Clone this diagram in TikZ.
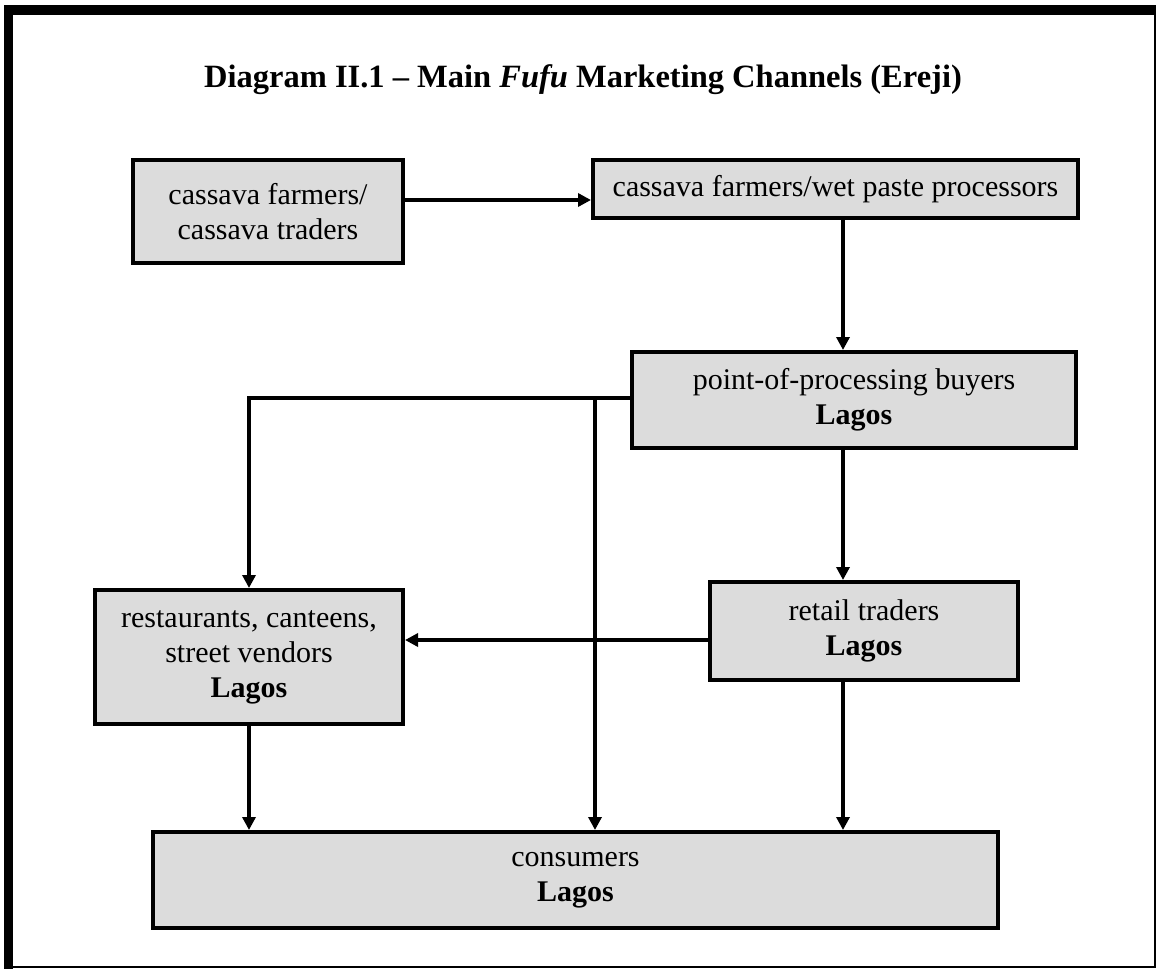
\documentclass[tikz,border=0pt]{standalone}
\usepackage{fontspec}
\setmainfont{Liberation Serif}
\usetikzlibrary{arrows.meta}

\definecolor{boxgray}{HTML}{DCDCDC}

\tikzset{
	chan/.style={draw, line width=4pt, fill=boxgray, inner sep=0pt, align=center,
		font=\fontsize{30}{35}\selectfont},
	arr/.style={line width=3.3pt, -{Triangle[length=13pt,width=13pt]}},
}

\begin{document}
\begin{tikzpicture}[x=1pt,y=-1pt]
	\useasboundingbox (0,0) rectangle (1156,969);
	% frame
	\draw[line width=10pt] (4,10) -- (1156,10);
	\draw[line width=9pt] (8.5,5) -- (8.5,969);
	\draw[line width=2pt] (1155,5) -- (1155,967) -- (4,967);
	\node (title) at (583,80) {\fontsize{32.5}{38}\selectfont\bfseries Diagram II.1 -- Main \textit{Fufu} Marketing Channels (Ereji)};

	% boxes
	\node[chan, minimum width=270pt, minimum height=103pt] (farm) at (268,211.5) {cassava farmers/\\cassava traders};
	\node[chan, minimum width=485pt, minimum height=58pt] (paste) at (835.5,189) {cassava farmers/wet paste processors};
	\node[chan, minimum width=444pt, minimum height=96pt] (buyers) at (854,400) {point-of-processing buyers\\\textbf{Lagos}};
	\node[chan, minimum width=308pt, minimum height=134pt] (rest) at (249,657) {restaurants, canteens,\\street vendors\\\textbf{Lagos}};
	\node[chan, minimum width=308pt, minimum height=98pt] (retail) at (864,631) {retail traders\\\textbf{Lagos}};
	\node[chan, minimum width=845pt, minimum height=96pt] (cons) at (575.5,880) {consumers\\\textbf{Lagos}};

	\coordinate (split) at (595,398);
	\coordinate (mid) at (843,0);

	% connectors
	\draw[arr] (farm.east |- 0,200) -- (paste.west |- 0,200);
	\draw[arr] (paste.south -| mid) -- (buyers.north -| mid);
	\draw[arr] (buyers.west |- split) -| (rest.north);
	\draw[arr] (split) -- (split |- cons.north);
	\draw[arr] (buyers.south -| mid) -- (retail.north -| mid);
	\draw[arr] (retail.west |- 0,640) -- (rest.east |- 0,640);
	\draw[arr] (rest.south) -- (rest.south |- cons.north);
	\draw[arr] (retail.south -| mid) -- (cons.north -| mid);
\end{tikzpicture}
\end{document}
